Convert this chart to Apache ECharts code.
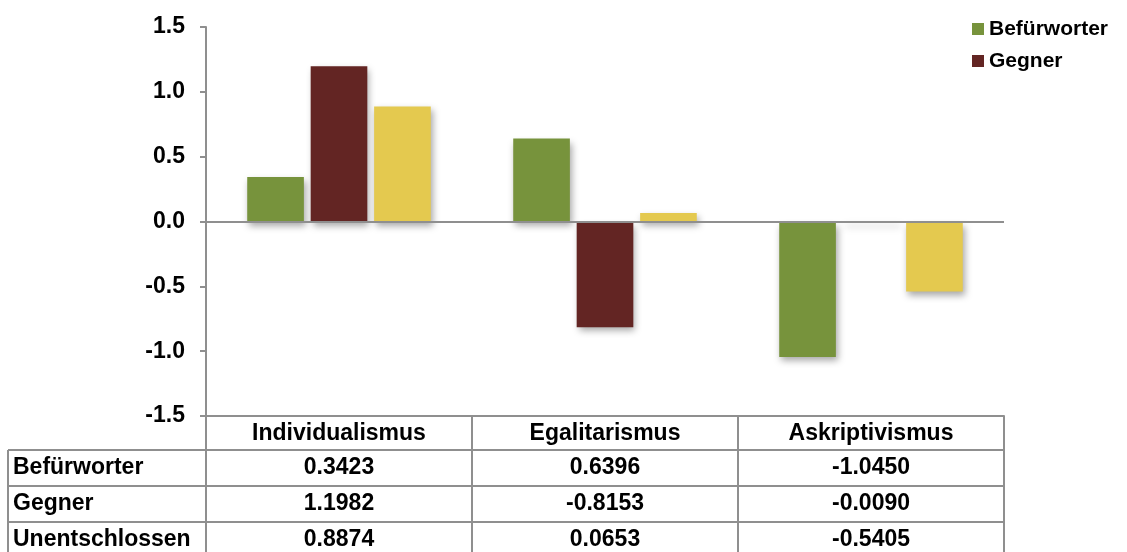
<!DOCTYPE html>
<html><head><meta charset="utf-8">
<script src="https://cdn.jsdelivr.net/npm/echarts@6/dist/echarts.min.js"></script>
<style>html,body{margin:0;padding:0;background:#fff}#c{width:1127px;height:552px}</style>
</head><body><div id="c"></div>
<script>
// ---- data ----
const categories = ['Individualismus', 'Egalitarismus', 'Askriptivismus'];
const seriesNames = ['Befürworter', 'Gegner', 'Unentschlossen'];
const befuerworter = [0.3423, 0.6396, -1.0450];
const gegner = [1.1982, -0.8153, -0.0090];
const unentschlossen = [0.8874, 0.0653, -0.5405];
const legendNames = ['Befürworter', 'Gegner'];
const yMin = -1.5, yMax = 1.5, yStep = 0.5;

// ---- style / layout ----
const colors = ['#77933C', '#632523', '#E4C94F'];
const FONT = '"Liberation Sans", Arial, sans-serif';
const FS = 23;
const LFS = 21;
const lineColor = '#8f8f8f';
const gridL = 206, gridR = 1004, gridT = 27, gridB = 416;
const W = 1127, H = 552;
const tableLeft = 8, headerBottom = 450, rowH = 36;

const allSeries = [befuerworter, gegner, unentschlossen];
const chart = echarts.init(document.getElementById('c'), null, {renderer: 'canvas'});

const barStyle = c => ({
  color: c,
  shadowColor: 'rgba(0,0,0,0.35)',
  shadowBlur: 7,
  shadowOffsetX: 2,
  shadowOffsetY: 4
});

const series = allSeries.map((d, i) => {
  const s = {
    name: seriesNames[i],
    type: 'bar',
    data: d,
    barGap: '12%',
    barCategoryGap: '31%',
    itemStyle: barStyle(colors[i]),
    emphasis: {disabled: true}
  };
  if (i === 0) {
    s.markLine = {
      silent: true,
      symbol: ['none', 'none'],
      label: {show: false},
      lineStyle: {color: lineColor, width: 2, type: 'solid'},
      data: [{yAxis: 0}],
      animation: false
    };
  }
  return s;
});

// table graphics
const graphics = [];
const n = categories.length;
const colW = (gridR - gridL) / n;
const bounds = [];
for (let i = 0; i <= n; i++) bounds.push(gridL + i * colW);
const rowTops = seriesNames.map((_, r) => headerBottom + r * rowH);
const line = (x1, y1, x2, y2) => ({
  type: 'line', silent: true, z: 10,
  shape: {x1, y1, x2, y2},
  style: {stroke: lineColor, lineWidth: 2}
});
rowTops.forEach(y => graphics.push(line(tableLeft, y, gridR, y)));
graphics.push(line(tableLeft, headerBottom, tableLeft, H + 5));
bounds.forEach(x => graphics.push(line(x, gridB, x, H + 5)));
seriesNames.forEach((name, r) => {
  const cy = rowTops[r] + rowH / 2;
  graphics.push({
    type: 'text', silent: true, z: 11,
    x: tableLeft + 5, y: cy,
    style: {text: name, font: `bold ${FS}px ${FONT}`, fill: '#000', align: 'left', verticalAlign: 'middle'}
  });
  allSeries[r].forEach((v, c) => {
    graphics.push({
      type: 'text', silent: true, z: 11,
      x: (bounds[c] + bounds[c + 1]) / 2, y: cy,
      style: {text: v.toFixed(4), font: `bold ${FS}px ${FONT}`, fill: '#000', align: 'center', verticalAlign: 'middle'}
    });
  });
});

chart.setOption({
  animation: false,
  backgroundColor: '#fff',
  color: colors,
  grid: {left: gridL, right: W - gridR, top: gridT, bottom: H - gridB, containLabel: false},
  legend: {
    data: legendNames,
    orient: 'vertical',
    left: 967,
    top: 13,
    padding: 5,
    icon: 'rect',
    itemWidth: 12,
    itemHeight: 12,
    itemGap: 10,
    selectedMode: false,
    textStyle: {fontFamily: FONT, fontWeight: 'bold', fontSize: LFS, color: '#000', lineHeight: 22}
  },
  xAxis: {
    type: 'category',
    data: categories,
    position: 'bottom',
    axisLine: {onZero: false, lineStyle: {color: lineColor, width: 2}},
    axisTick: {show: false},
    axisLabel: {interval: 0, margin: 6, fontFamily: FONT, fontWeight: 'bold', fontSize: FS, color: '#000'},
    splitLine: {show: false}
  },
  yAxis: {
    type: 'value',
    min: yMin, max: yMax, interval: yStep,
    axisLine: {show: true, lineStyle: {color: lineColor, width: 2}},
    axisTick: {show: true, length: 6, lineStyle: {color: lineColor, width: 2}},
    axisLabel: {margin: 21, fontFamily: FONT, fontWeight: 'bold', fontSize: FS, color: '#000',
      formatter: v => v.toFixed(1)},
    splitLine: {show: false}
  },
  series: series,
  graphic: graphics
});
</script>
</body></html>
